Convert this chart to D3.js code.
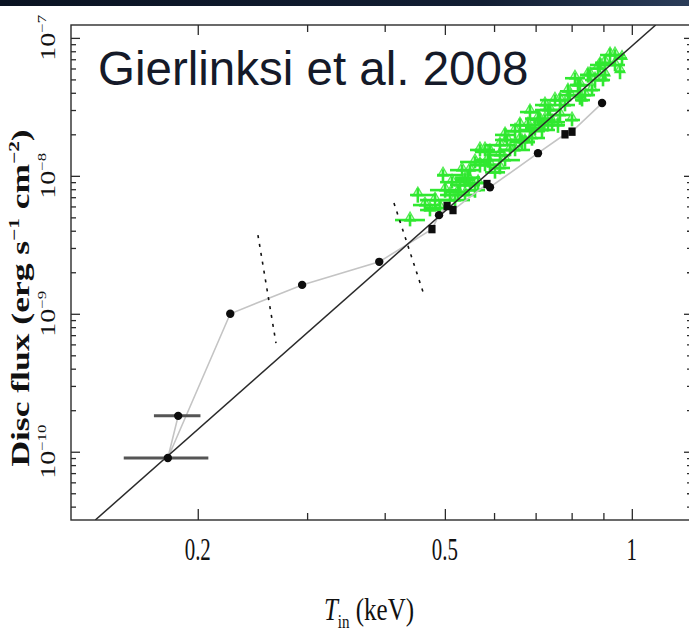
<!DOCTYPE html>
<html>
<head>
<meta charset="utf-8">
<script src="https://cdn.jsdelivr.net/npm/d3@7"></script>
<style>
  html, body { margin: 0; padding: 0; background: #ffffff; }
  svg { display: block; }
</style>
</head>
<body>
<div id="chart"></div>
<script>
// ---------------- DATA ----------------
const titleText = "Gierlinksi et al. 2008";
const xDomain = [0.125, 1.25];
const yDomain = [3.2e-11, 1.24e-7];
const xTicksMajor = [0.2, 0.5, 1];
const xTickLabels = ["0.2", "0.5", "1"];
const xTicksMinor = [0.3, 0.4, 0.6, 0.7, 0.8, 0.9];
const yTicksMajor = [1e-10, 1e-9, 1e-8, 1e-7];
const yTickExponents = ["\u221210", "\u22129", "\u22128", "\u22127"];

// L ∝ T^4 reference line end points
const refLineT = [0.1368, 1.0926];
const refLineF = [3.2e-11, 1.24e-7];

// black points (time order, joined by grey line)
const blackT = [0.186, 0.179, 0.2256, 0.2945, 0.392, 0.4766, 0.4893, 0.5041, 0.5153, 0.5845, 0.5910, 0.7061, 0.7805, 0.8011, 0.8955];
const blackF = [1.82e-10, 9.0e-11, 1.0e-9, 1.62e-9, 2.38e-9, 4.11e-9, 5.19e-9, 6.04e-9, 5.65e-9, 8.72e-9, 8.27e-9, 1.46e-8, 2.0e-8, 2.09e-8, 3.37e-8];
const blackShape = ["c", "c", "c", "c", "c", "s", "c", "s", "s", "s", "c", "c", "s", "s", "c"];
const blackTLo = [0.170, 0.152, null, null, null, null, null, null, null, null, null, null, null, null, null];
const blackTHi = [0.202, 0.208, null, null, null, null, null, null, null, null, null, null, null, null, null];

// dotted separators
const dash1T = [0.25, 0.2673], dash1F = [3.72e-9, 6.13e-10];
const dash2T = [0.414, 0.464], dash2F = [6.35e-9, 1.32e-9];

// green points (T, flux, T error range, fractional flux error)
const greenT = [0.4394, 0.4523, 0.4644, 0.4821, 0.4965, 0.5004, 0.5134, 0.5251, 0.5329, 0.5448,
  0.5591, 0.5654, 0.5802, 0.5910, 0.6021, 0.6133, 0.6250, 0.6486, 0.6486, 0.6655,
  0.6804, 0.6907, 0.7061, 0.7167, 0.7329, 0.7440, 0.7521, 0.7661, 0.7805, 0.7892,
  0.8011, 0.8191, 0.8315, 0.8500, 0.8628, 0.8821, 0.8987, 0.9224, 0.9395, 0.9572,
  0.9643, 0.9054, 0.5488, 0.5866, 0.6295, 0.6983, 0.7247, 0.7605, 0.8406, 0.8725,
  0.5192, 0.4911, 0.5695, 0.6855, 0.8100,
  0.6133, 0.6729, 0.7329, 0.8251, 0.9054, 0.5591, 0.5388,
  0.5096, 0.5289, 0.5488, 0.5695, 0.5910, 0.6133, 0.6366, 0.6605, 0.6855, 0.7113,
  0.7382, 0.7661, 0.7951, 0.8251, 0.8563, 0.8889, 0.9395, 0.6605, 0.7247, 0.6250,
  0.5802, 0.5388, 0.4731];
const greenF = [4.78e-9, 7.26e-9, 6.14e-9, 6.67e-9, 1.013e-8, 7.88e-9, 9.0e-9, 7.6e-9, 1.10e-8, 9.7e-9,
  1.26e-8, 8.9e-9, 1.20e-8, 1.49e-8, 1.06e-8, 1.67e-8, 1.30e-8, 2.11e-8, 1.54e-8, 1.76e-8,
  2.33e-8, 1.88e-8, 2.6e-8, 2.15e-8, 3.00e-8, 2.45e-8, 3.54e-8, 2.76e-8, 3.26e-8, 4.1e-8,
  2.54e-8, 4.55e-8, 3.54e-8, 5.38e-8, 4.19e-8, 6.0e-8, 4.95e-8, 7.51e-8, 6.36e-8, 5.7e-8,
  7.1e-8, 6.6e-8, 8.57e-9, 1.30e-8, 1.82e-8, 2.23e-8, 2.54e-8, 2.33e-8, 3.85e-8, 4.95e-8,
  6.67e-9, 5.85e-9, 1.54e-8, 2.9e-8, 5.1e-8,
  1.14e-8, 1.76e-8, 2.33e-8, 3.72e-8, 5.38e-8, 7.88e-9, 7.26e-9,
  7.26e-9, 8.57e-9, 1.10e-8, 1.20e-8, 1.20e-8, 1.41e-8, 1.54e-8, 1.82e-8, 2.15e-8, 2.54e-8,
  3.00e-8, 3.54e-8, 3.85e-8, 4.55e-8, 5.38e-8, 6.36e-8, 7.51e-8, 2.33e-8, 3.26e-8, 1.98e-8,
  1.54e-8, 9.32e-9, 5.65e-9];
const greenTLo = [0.4156, 0.4394, 0.4442, 0.4560, 0.4857, 0.4731, 0.4911, 0.5004, 0.5096, 0.5192,
  0.5289, 0.5488, 0.5488, 0.5591, 0.5802, 0.5802, 0.5910, 0.6250, 0.6133, 0.6366,
  0.6486, 0.6605, 0.6729, 0.6855, 0.6983, 0.7113, 0.7113, 0.7382, 0.7521, 0.7661,
  0.7805, 0.7951, 0.8100, 0.8251, 0.8406, 0.8563, 0.8725, 0.8889, 0.9054, 0.9395,
  0.9395, 0.8725, 0.5289, 0.5591, 0.6021, 0.6729, 0.6983, 0.7382, 0.8100, 0.8406,
  0.4911, 0.4644, 0.5488, 0.6605, 0.7805,
  0.5910, 0.6486, 0.7113, 0.8100, 0.8889, 0.5388, 0.5192,
  0.4911, 0.5096, 0.5289, 0.5488, 0.5695, 0.5910, 0.6133, 0.6366, 0.6605, 0.6855,
  0.7113, 0.7382, 0.7661, 0.7951, 0.8251, 0.8563, 0.9054, 0.6366, 0.6983, 0.6021,
  0.5591, 0.5192, 0.4560];
const greenTHi = [0.4644, 0.4821, 0.4911, 0.5192, 0.5329, 0.5289, 0.5448, 0.5488, 0.5591, 0.5695,
  0.5910, 0.5802, 0.6133, 0.6250, 0.6250, 0.6486, 0.6605, 0.7247, 0.6855, 0.6983,
  0.7113, 0.7247, 0.7382, 0.7521, 0.7661, 0.7805, 0.7951, 0.7951, 0.8100, 0.8251,
  0.8251, 0.8406, 0.8563, 0.8725, 0.8889, 0.9054, 0.9224, 0.9572, 0.9750, 0.9750,
  0.9820, 0.9395, 0.5695, 0.6133, 0.6605, 0.7247, 0.7521, 0.7805, 0.8725, 0.9054,
  0.5488, 0.5096, 0.5910, 0.7113, 0.8406,
  0.6366, 0.6983, 0.7521, 0.8406, 0.9224, 0.5802, 0.5591,
  0.5289, 0.5488, 0.5695, 0.5910, 0.6133, 0.6366, 0.6605, 0.6855, 0.7113, 0.7382,
  0.7661, 0.7951, 0.8251, 0.8563, 0.8889, 0.9224, 0.9750, 0.6855, 0.7521, 0.6486,
  0.6021, 0.5591, 0.4911];
const greenFErr = [0.10, 0.12, 0.10, 0.12, 0.10, 0.12, 0.10, 0.12, 0.10, 0.12,
  0.10, 0.12, 0.10, 0.12, 0.10, 0.12, 0.10, 0.12, 0.10, 0.12,
  0.10, 0.12, 0.10, 0.12, 0.10, 0.12, 0.10, 0.12, 0.10, 0.12,
  0.10, 0.12, 0.10, 0.12, 0.10, 0.12, 0.10, 0.12, 0.10, 0.12,
  0.10, 0.12, 0.10, 0.12, 0.10, 0.12, 0.10, 0.12, 0.10, 0.12,
  0.10, 0.12, 0.10, 0.12, 0.10,
  0.10, 0.12, 0.10, 0.12, 0.10, 0.12, 0.10,
  0.10, 0.12, 0.10, 0.12, 0.10, 0.12, 0.10, 0.12, 0.10, 0.12,
  0.10, 0.12, 0.10, 0.12, 0.10, 0.12, 0.10, 0.12, 0.10, 0.12,
  0.10, 0.12, 0.10];

// ---------------- CHART ----------------
const W = 689, H = 636;
const fL = 71, fR = 692, fT = 25, fB = 520;
const svg = d3.select("#chart").append("svg").attr("width", W).attr("height", H);
const defs = svg.append("defs");
const grad = defs.append("linearGradient").attr("id", "topbar").attr("x1", "0").attr("x2", "1");
grad.append("stop").attr("offset", "0").attr("stop-color", "#0a1322");
grad.append("stop").attr("offset", "0.7").attr("stop-color", "#121e33");
grad.append("stop").attr("offset", "1").attr("stop-color", "#2a3c58");
defs.append("clipPath").attr("id", "plotclip").append("rect")
  .attr("x", fL).attr("y", fT).attr("width", fR - fL).attr("height", fB - fT);

svg.append("rect").attr("x", 0).attr("y", 0).attr("width", W).attr("height", 6).attr("fill", "url(#topbar)");

const x = d3.scaleLog().domain(xDomain).range([fL, fR]);
const y = d3.scaleLog().domain(yDomain).range([fB, fT]);

const plot = svg.append("g").attr("clip-path", "url(#plotclip)");

// green points
const green = d3.range(greenT.length).map(i => ({t: greenT[i], f: greenF[i], lo: greenTLo[i], hi: greenTHi[i], e: greenFErr[i]}));
const gG = plot.append("g");
gG.selectAll("path.tri").data(green).join("path").attr("class", "tri")
  .attr("d", d3.symbol(d3.symbolTriangle, 45))
  .attr("transform", d => `translate(${x(d.t)},${y(d.f) - 2})`)
  .attr("fill", "#a8f5a8").attr("fill-opacity", 0.35)
  .attr("stroke", "#55ec55").attr("stroke-width", 1.3);
gG.selectAll("line.h").data(green).join("line").attr("class", "h")
  .attr("x1", d => x(d.lo)).attr("x2", d => x(d.hi))
  .attr("y1", d => y(d.f)).attr("y2", d => y(d.f))
  .attr("stroke", "#30e830").attr("stroke-width", 2.6);
gG.selectAll("line.v").data(green).join("line").attr("class", "v")
  .attr("x1", d => x(d.t)).attr("x2", d => x(d.t))
  .attr("y1", d => y(d.f * (1 - d.e))).attr("y2", d => y(d.f * (1 + d.e)))
  .attr("stroke", "#30e830").attr("stroke-width", 2.6);

// grey connecting line
const black = d3.range(blackT.length).map(i => ({t: blackT[i], f: blackF[i], s: blackShape[i], lo: blackTLo[i], hi: blackTHi[i]}));
plot.append("path").datum(black)
  .attr("d", d3.line().x(d => x(d.t)).y(d => y(d.f)))
  .attr("fill", "none").attr("stroke", "#c4c4c4").attr("stroke-width", 1.6);

// reference line
plot.append("line")
  .attr("x1", x(refLineT[0])).attr("y1", y(refLineF[0]))
  .attr("x2", x(refLineT[1])).attr("y2", y(refLineF[1]))
  .attr("stroke", "#2a2a2a").attr("stroke-width", 1.5);

// dotted separators
[[dash1T, dash1F], [dash2T, dash2F]].forEach(([tt, ff]) => {
  plot.append("line")
    .attr("x1", x(tt[0])).attr("y1", y(ff[0]))
    .attr("x2", x(tt[1])).attr("y2", y(ff[1]))
    .attr("stroke", "#111").attr("stroke-width", 1.6).attr("stroke-dasharray", "3,6");
});

// black point error bars
plot.selectAll("line.err").data(black.filter(d => d.lo !== null)).join("line").attr("class", "err")
  .attr("x1", d => x(d.lo)).attr("x2", d => x(d.hi))
  .attr("y1", d => y(d.f)).attr("y2", d => y(d.f))
  .attr("stroke", "#555").attr("stroke-width", 3);

// black markers
plot.selectAll("circle.bp").data(black.filter(d => d.s === "c")).join("circle").attr("class", "bp")
  .attr("cx", d => x(d.t)).attr("cy", d => y(d.f)).attr("r", 4.2).attr("fill", "#0d0d0d");
plot.selectAll("rect.bp").data(black.filter(d => d.s === "s")).join("rect").attr("class", "bp")
  .attr("x", d => x(d.t) - 3.6).attr("y", d => y(d.f) - 4.2).attr("width", 7.2).attr("height", 8.4).attr("fill", "#0d0d0d");

// ---------------- AXES ----------------
const axisCol = "#2b2b2b";
function styleAxis(g) {
  g.select(".domain").remove();
  g.selectAll(".tick line").attr("stroke", axisCol).attr("stroke-width", 1.3);
  g.selectAll(".tick text").remove();
}
const yMinor = y.ticks().filter(v => !yTicksMajor.some(m => Math.abs(v / m - 1) < 1e-6));

svg.append("g").attr("transform", `translate(0,${fB})`).call(d3.axisBottom(x).tickValues(xTicksMinor).tickSizeInner(-7).tickSizeOuter(0)).call(styleAxis);
svg.append("g").attr("transform", `translate(0,${fB})`).call(d3.axisBottom(x).tickValues(xTicksMajor).tickSizeInner(-11).tickSizeOuter(0)).call(styleAxis);
svg.append("g").attr("transform", `translate(0,${fT})`).call(d3.axisTop(x).tickValues(xTicksMinor).tickSizeInner(-7).tickSizeOuter(0)).call(styleAxis);
svg.append("g").attr("transform", `translate(0,${fT})`).call(d3.axisTop(x).tickValues(xTicksMajor).tickSizeInner(-10).tickSizeOuter(0)).call(styleAxis);
svg.append("g").attr("transform", `translate(${fL},0)`).call(d3.axisLeft(y).tickValues(yMinor).tickSizeInner(-5).tickSizeOuter(0)).call(styleAxis);
svg.append("g").attr("transform", `translate(${fL},0)`).call(d3.axisLeft(y).tickValues(yTicksMajor).tickSizeInner(-9).tickSizeOuter(0)).call(styleAxis);
svg.append("g").attr("transform", `translate(${fR},0)`).call(d3.axisRight(y).tickValues(yMinor).tickSizeInner(-5).tickSizeOuter(0)).call(styleAxis);
svg.append("g").attr("transform", `translate(${fR},0)`).call(d3.axisRight(y).tickValues(yTicksMajor).tickSizeInner(-8).tickSizeOuter(0)).call(styleAxis);

svg.append("rect").attr("x", fL).attr("y", fT).attr("width", fR - fL).attr("height", fB - fT)
  .attr("fill", "none").attr("stroke", axisCol).attr("stroke-width", 1.4);

// x tick labels
const serif = "'Liberation Serif', 'Times New Roman', serif";
xTicksMajor.forEach((v, i) => {
  svg.append("g").attr("transform", `translate(${x(v)},560) scale(0.95,1.45)`)
    .append("text").attr("text-anchor", "middle")
    .attr("font-family", serif).attr("font-size", 22).attr("fill", "#111")
    .text(xTickLabels[i]);
});

// y tick labels (rotated, 10^n)
yTicksMajor.forEach((v, i) => {
  const t = svg.append("g").attr("transform", `translate(55,${y(v)}) rotate(-90) scale(1.4,1)`)
    .append("text").attr("text-anchor", "middle")
    .attr("font-family", serif).attr("font-size", 20).attr("fill", "#111");
  t.append("tspan").text("10");
  t.append("tspan").attr("font-size", 12).attr("dy", -9).text(yTickExponents[i]);
});

// x axis title
{
  const t = svg.append("g").attr("transform", `translate(369,620) scale(1,1.3)`)
    .append("text").attr("text-anchor", "middle")
    .attr("font-family", serif).attr("font-size", 25).attr("fill", "#111");
  t.append("tspan").attr("font-style", "italic").text("T");
  t.append("tspan").attr("font-size", 15).attr("dy", 6).text("in");
  t.append("tspan").attr("dy", -6).text(" (keV)");
}

// y axis title
{
  const t = svg.append("g").attr("transform", `translate(29,298) rotate(-90) scale(1.42,1)`)
    .append("text").attr("text-anchor", "middle")
    .attr("font-family", serif).attr("font-weight", "bold").attr("font-size", 25).attr("fill", "#111");
  t.append("tspan").text("Disc flux (erg s");
  t.append("tspan").attr("font-size", 15).attr("dy", -10).text("\u22121");
  t.append("tspan").attr("dy", 10).text(" cm");
  t.append("tspan").attr("font-size", 15).attr("dy", -10).text("\u22122");
  t.append("tspan").attr("dy", 10).text(")");
}

// title overlay
svg.append("text").attr("x", 98).attr("y", 85)
  .attr("font-family", "'Liberation Sans', Arial, sans-serif").attr("font-size", 47.5)
  .attr("fill", "#151a29").text(titleText);
</script>
</body>
</html>
